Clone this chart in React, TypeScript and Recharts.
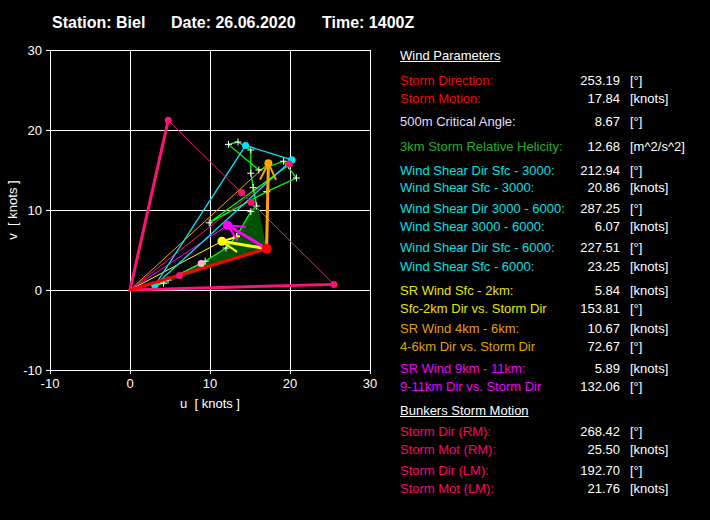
import React from 'react';
import { CartesianGrid, Scatter, ScatterChart, XAxis, YAxis } from 'recharts';

type Pt = { u: number; v: number; tip?: boolean };

const axisTicks = [-10, 0, 10, 20, 30];

// [direction deg, speed kn] from the parameter panel
const stormMotion = [253.19, 17.84];
const bunkersRM = [268.42, 25.5];
const bunkersLM = [192.7, 21.76];
const shearSfc3 = [212.94, 20.86];
const shearSfc6 = [227.51, 23.25];

// surface wind (u, v)
const sfcWind = [3.1, 0.55];

// hodograph levels, knots
const hodoU = [3.1, 4.2, 4.75, 9.4, 12.0, 13.3, 15.1, 15.8, 15.4, 15.1, 15.1, 13.5, 12.3, 16.1, 19.2, 20.8, 17.1, 9.9, 19.8];
const hodoV = [0.55, 0.85, 1.25, 3.6, 5.25, 6.7, 9.8, 10.5, 12.8, 14.6, 17.5, 18.5, 18.2, 15.0, 16.1, 14.0, 12.3, 8.4, 15.6];

// 0-3 km helicity area outline (closed back to storm motion)
const heliU = [4.5, 9.4, 12.0, 13.3, 15.1, 15.8, 15.4, 15.1, 14.6];
const heliV = [0.9, 3.6, 5.25, 6.7, 9.8, 10.5, 12.8, 14.6, 17.6];

// storm relative wind arrow tips
const srLowTip = [11.5, 6.1];
const srMidTip = [17.3, 15.85];
const srHighTip = [12.2, 8.1];

// mean wind / bunkers helper points
const meanU = [6.2, 13.96, 15.14, 19.9];
const meanV = [1.8, 12.2, 10.97, 15.75];
const lightDot = [8.9, 3.3];

const paramLabels = ['Storm Direction:', 'Storm Motion:', '500m Critical Angle:', '3km Storm Relative Helicity:',
  'Wind Shear Dir Sfc - 3000:', 'Wind Shear Sfc - 3000:', 'Wind Shear Dir 3000 - 6000:', 'Wind Shear 3000 - 6000:',
  'Wind Shear Dir Sfc - 6000:', 'Wind Shear Sfc - 6000:', 'SR Wind Sfc - 2km:', 'Sfc-2km Dir vs. Storm Dir',
  'SR Wind 4km - 6km:', '4-6km Dir vs. Storm Dir', 'SR Wind 9km - 11km:', '9-11km Dir vs. Storm Dir'];
const paramValues = ['253.19', '17.84', '8.67', '12.68', '212.94', '20.86', '287.25', '6.07', '227.51', '23.25',
  '5.84', '153.81', '10.67', '72.67', '5.89', '132.06'];
const paramUnits = ['[°]', '[knots]', '[°]', '[m^2/s^2]', '[°]', '[knots]', '[°]', '[knots]', '[°]', '[knots]',
  '[knots]', '[°]', '[knots]', '[°]', '[knots]', '[°]'];
const bunkersLabels = ['Storm Dir (RM):', 'Storm Mot (RM):', 'Storm Dir (LM):', 'Storm Mot (LM):'];
const bunkersValues = ['268.42', '25.50', '192.70', '21.76'];
const bunkersUnits = ['[°]', '[knots]', '[°]', '[knots]'];

const paramRowY = [80.7, 98.7, 122, 146.7, 170.7, 188.3, 209.3, 227.3, 248.3, 266.7, 290.7, 308.7, 329.3, 347.3, 368.7, 386.7];
const paramColors = ['#ff0000', '#ff0000', '#e4dcff', '#22b022', '#00e0e0', '#00e0e0', '#00e0e0', '#00e0e0', '#00e0e0',
  '#00e0e0', '#e6e600', '#e6e600', '#e0a000', '#e0a000', '#ee00ff', '#ee00ff'];
const bunkersRowY = [431.7, 450, 470.7, 488.7];

const vec = (ds: number[], base: Pt = { u: 0, v: 0 }): Pt => {
  const r = (ds[0] * Math.PI) / 180;
  return { u: base.u - ds[1] * Math.sin(r), v: base.v - ds[1] * Math.cos(r) };
};
const pts = (us: number[], vs: number[]): Pt[] => us.map((u, i) => ({ u, v: vs[i] }));
const pt = (a: number[]): Pt => ({ u: a[0], v: a[1] });

const origin: Pt = { u: 0, v: 0 };
const sm = vec(stormMotion);
const rm = vec(bunkersRM);
const lm = vec(bunkersLM);
const sfc = pt(sfcWind);
const km3 = vec(shearSfc3, sfc);
const km6 = vec(shearSfc6, sfc);

// arrow head barbs, going back from the tip towards the tail
const barbs = (from: Pt, to: Pt): Pt[] => {
  const dx = from.u - to.u;
  const dy = from.v - to.v;
  const len = Math.hypot(dx, dy);
  const ux = dx / len;
  const uy = dy / len;
  const h = 2.3;
  const rot = (s: number) => ({
    u: to.u + h * (ux * Math.cos(s) - uy * Math.sin(s)),
    v: to.v + h * (ux * Math.sin(s) + uy * Math.cos(s)),
  });
  return [rot(0.45), to, rot(-0.45)];
};

const noMark = () => <g />;
const dotMark = (r: number, c: string) => (p: any) => <circle cx={p.cx} cy={p.cy} r={r} fill={c} />;
const tipMark = (r: number, c: string) => (p: any) =>
  p.payload && p.payload.tip ? <circle cx={p.cx} cy={p.cy} r={r} fill={c} /> : <g />;
const plusMark = (p: any) => (
  <path d={`M${p.cx - 3.5} ${p.cy}H${p.cx + 3.5}M${p.cx} ${p.cy - 3.5}V${p.cy + 3.5}`} stroke="#fff" strokeWidth={1} />
);

const txt: React.CSSProperties = { position: 'absolute', fontSize: 13, lineHeight: '16px', whiteSpace: 'nowrap' };

export default function App() {
  const hodo = pts(hodoU, hodoV);
  const heli = [sm, ...pts(heliU, heliV)];
  const ln = (c: string, w: number) => ({ stroke: c, strokeWidth: w });

  const arrows = [
    { tip: pt(srMidTip), c: '#ffa500', r: 4 },
    { tip: pt(srLowTip), c: '#ffff00', r: 4.5 },
    { tip: pt(srHighTip), c: '#ff00ff', r: 4.5 },
  ];

  return (
    <div style={{ position: 'absolute', left: 0, top: 0, width: 710, height: 520, background: '#000', fontFamily: 'Arial, "Liberation Sans", sans-serif', color: '#fff', overflow: 'hidden' }}>
      <style>{'.recharts-cartesian-grid line, .recharts-cartesian-axis line { shape-rendering: crispEdges; }'}</style>
      <div style={{ ...txt, left: 52, top: 13, fontSize: 16, fontWeight: 'bold', lineHeight: '20px' }}>Station: Biel</div>
      <div style={{ ...txt, left: 171, top: 13, fontSize: 16, fontWeight: 'bold', lineHeight: '20px' }}>Date: 26.06.2020</div>
      <div style={{ ...txt, left: 322, top: 13, fontSize: 16, fontWeight: 'bold', lineHeight: '20px' }}>Time: 1400Z</div>

      <ScatterChart width={710} height={520} margin={{ top: 50, right: 340, bottom: 110, left: 10 }}>
        <CartesianGrid stroke="#fff" strokeWidth={1} />
        <XAxis type="number" dataKey="u" domain={[-10, 30]} ticks={axisTicks} height={40} interval={0}
          stroke="#fff" tickSize={4} tickMargin={5} tick={{ fill: '#fff', fontSize: 13 }}
          label={{ value: 'u\u00a0 [ knots ]', position: 'insideBottom', offset: 2, fill: '#fff', fontSize: 13 }} />
        <YAxis type="number" dataKey="v" domain={[-10, 30]} ticks={axisTicks} width={40} interval={0}
          stroke="#fff" tickSize={4} tickMargin={4} tick={{ fill: '#fff', fontSize: 13 }} />

        <Scatter data={heli} fill="#005200" line={{ fill: '#005200', stroke: 'none' }} shape={noMark} isAnimationActive={false} />

        <Scatter data={[origin, pt(srMidTip)]} fill="#ffa500" line={ln('#ffa500', 1)} shape={noMark} isAnimationActive={false} />
        <Scatter data={[origin, pt(srHighTip)]} fill="#ff00ff" line={ln('#ff00ff', 1)} shape={noMark} isAnimationActive={false} />
        <Scatter data={[origin, pt(srLowTip)]} fill="#ffff00" line={ln('#ffff00', 1)} shape={noMark} isAnimationActive={false} />
        <Scatter data={[origin, pt([meanU[3], meanV[3]])]} fill="#ff1177" line={ln('#ff1177', 1)} shape={noMark} isAnimationActive={false} />
        <Scatter data={[sfc, pt(lightDot)]} fill="#ffc0e0" line={ln('#ffc0e0', 1)} shape={noMark} isAnimationActive={false} />

        <Scatter data={hodo} fill="#00ff00" line={ln('#00ff00', 1.3)} shape={plusMark} isAnimationActive={false} />

        <Scatter data={[km6, sfc, km3, km6]} fill="#00e5ff" line={ln('#00e5ff', 1.3)} shape={dotMark(3.5, '#00e5ff')} isAnimationActive={false} />

        <Scatter data={[lm, rm]} fill="#ff1177" line={ln('#ff1177', 1)} shape={noMark} isAnimationActive={false} />
        <Scatter data={[lm, origin, rm]} fill="#ff1177" line={ln('#ff1177', 3)} shape={noMark} isAnimationActive={false} />
        <Scatter data={[origin, sm]} fill="#ff0000" line={ln('#ff0000', 3)} shape={noMark} isAnimationActive={false} />

        {arrows.map((a) => (
          <Scatter key={a.c} data={[sm, { ...a.tip, tip: true }]} fill={a.c} line={ln(a.c, 3)} shape={tipMark(a.r, a.c)} isAnimationActive={false} />
        ))}
        {arrows.map((a) => (
          <Scatter key={a.c + 'b'} data={barbs(sm, a.tip)} fill={a.c} line={ln(a.c, 2)} shape={noMark} isAnimationActive={false} />
        ))}

        <Scatter data={[...pts(meanU, meanV), lm, rm]} fill="#ff1177" shape={dotMark(3.5, '#ff1177')} isAnimationActive={false} />
        <Scatter data={[pt(lightDot)]} fill="#ffb6d9" shape={dotMark(3.5, '#ffb6d9')} isAnimationActive={false} />
        <Scatter data={[sm]} fill="#ff0000" shape={dotMark(5, '#ff0000')} isAnimationActive={false} />
      </ScatterChart>

      <div style={{ ...txt, left: 13, top: 210, transform: 'translate(-50%, -50%) rotate(-90deg)' }}>v&nbsp; [ knots ]</div>

      <div style={{ ...txt, left: 400, top: 48, textDecoration: 'underline' }}>Wind Parameters</div>
      {paramLabels.map((l, i) => (
        <React.Fragment key={l}>
          <div style={{ ...txt, left: 400, top: paramRowY[i] - 8, color: paramColors[i] }}>{l}</div>
          <div style={{ ...txt, right: 90, top: paramRowY[i] - 8 }}>{paramValues[i]}</div>
          <div style={{ ...txt, left: 630, top: paramRowY[i] - 8 }}>{paramUnits[i]}</div>
        </React.Fragment>
      ))}
      <div style={{ ...txt, left: 400, top: 402.7, textDecoration: 'underline' }}>Bunkers Storm Motion</div>
      {bunkersLabels.map((l, i) => (
        <React.Fragment key={l}>
          <div style={{ ...txt, left: 400, top: bunkersRowY[i] - 8, color: '#ff0066' }}>{l}</div>
          <div style={{ ...txt, right: 90, top: bunkersRowY[i] - 8 }}>{bunkersValues[i]}</div>
          <div style={{ ...txt, left: 630, top: bunkersRowY[i] - 8 }}>{bunkersUnits[i]}</div>
        </React.Fragment>
      ))}
    </div>
  );
}
